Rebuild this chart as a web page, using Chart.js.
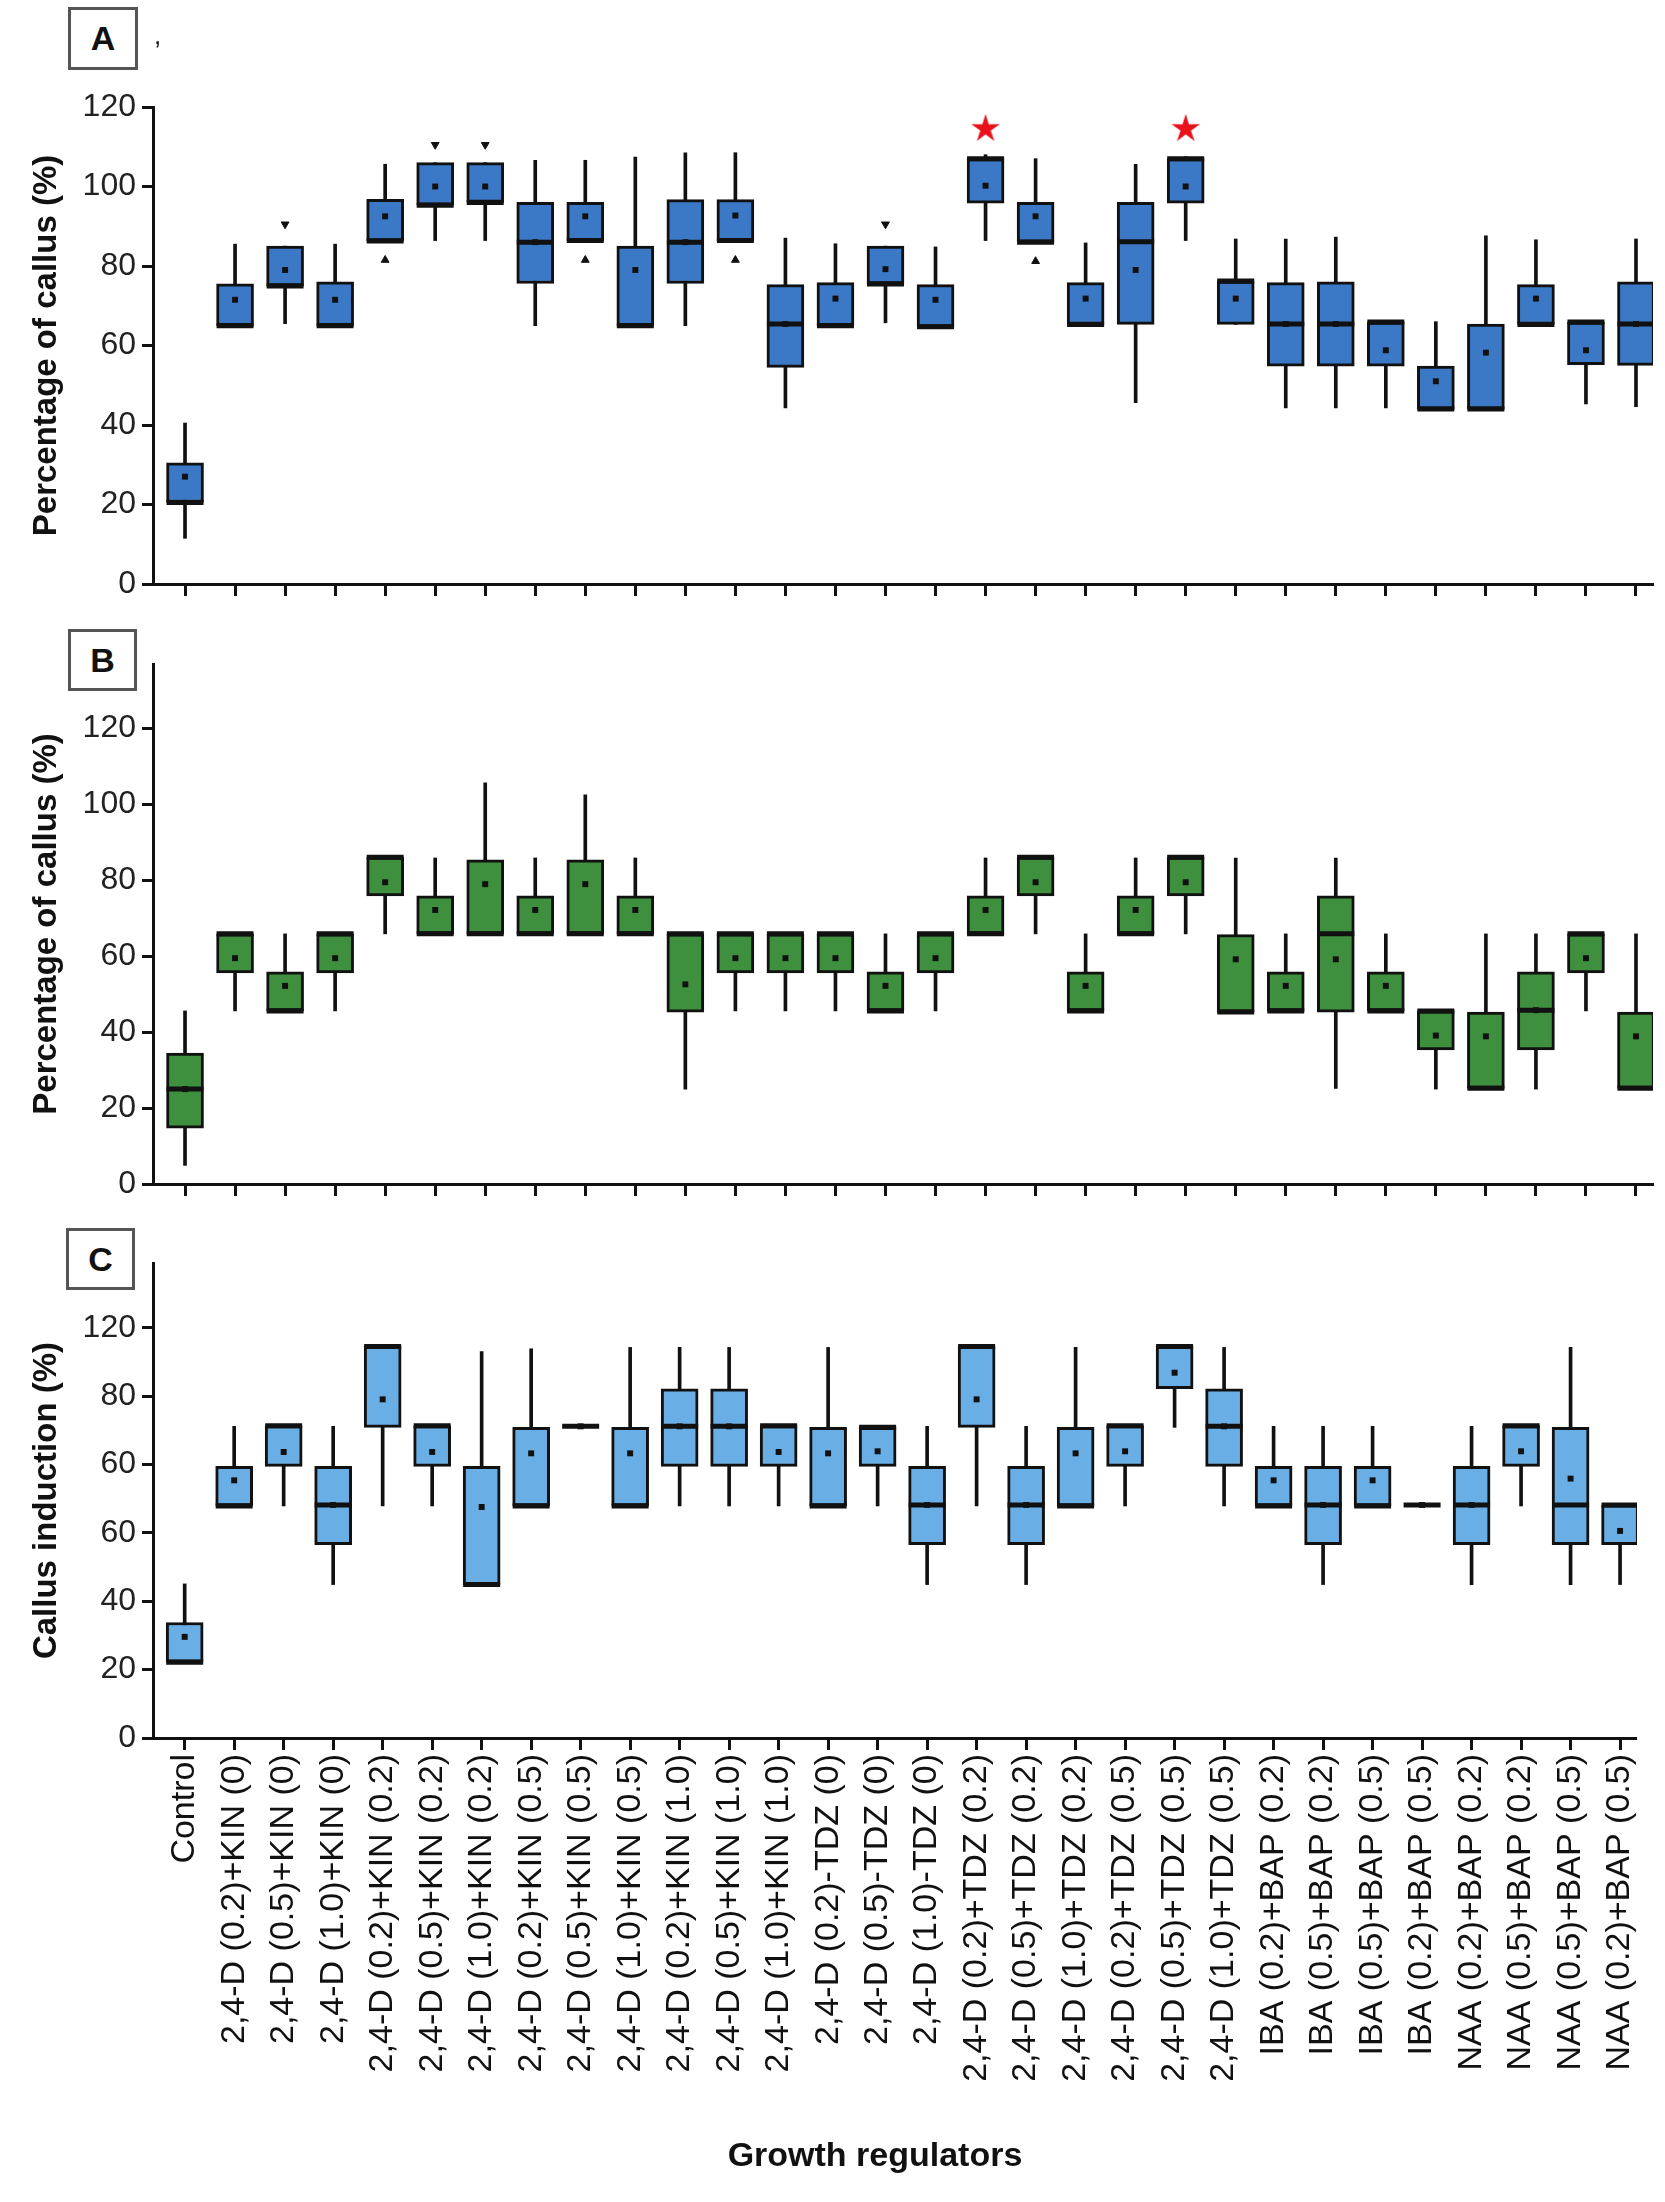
<!DOCTYPE html>
<html>
<head>
<meta charset="utf-8">
<title>Callus boxplots</title>
<script src="https://cdn.jsdelivr.net/npm/chart.js@4.4.1/dist/chart.umd.min.js"></script>
<style>
  html, body { margin: 0; padding: 0; background: #fff; }
  #page { position: relative; width: 1665px; height: 2202px; overflow: hidden;
          font-family: 'Liberation Sans', Arial, sans-serif; color: #111; }
  #page canvas { position: absolute; left: 0; }
  .tag { position: absolute; box-sizing: border-box; border: 3px solid #555; background: #fff;
         font-weight: bold; font-size: 34px; text-align: center; }
  .xtitle { position: absolute; font-weight: bold; font-size: 34px; transform: translateX(-50%); white-space: nowrap; }
</style>
</head>
<body>
<div id="page">
  <canvas id="chartA" width="1665" height="610" style="top:0"></canvas>
  <canvas id="chartB" width="1665" height="600" style="top:610px"></canvas>
  <canvas id="chartC" width="1665" height="992" style="top:1210px"></canvas>
  <div class="tag" style="left:68px;top:7px;width:70px;height:63px;line-height:57px">A</div>
  <div style="position:absolute;left:154px;top:20px;font-size:26px">,</div>
  <div class="tag" style="left:68px;top:629px;width:69px;height:62px;line-height:56px">B</div>
  <div class="tag" style="left:66px;top:1228px;width:69px;height:62px;line-height:56px">C</div>
  <div class="xtitle" style="left:875px;top:2135px">Growth regulators</div>
</div>

<script>
// ===== CATEGORIES (x axis) =====
const CATEGORIES = [
  'Control',
  '2,4-D (0.2)+KIN (0)', '2,4-D (0.5)+KIN (0)', '2,4-D (1.0)+KIN (0)',
  '2,4-D (0.2)+KIN (0.2)', '2,4-D (0.5)+KIN (0.2)', '2,4-D (1.0)+KIN (0.2)',
  '2,4-D (0.2)+KIN (0.5)', '2,4-D (0.5)+KIN (0.5)', '2,4-D (1.0)+KIN (0.5)',
  '2,4-D (0.2)+KIN (1.0)', '2,4-D (0.5)+KIN (1.0)', '2,4-D (1.0)+KIN (1.0)',
  '2,4-D (0.2)-TDZ (0)', '2,4-D (0.5)-TDZ (0)', '2,4-D (1.0)-TDZ (0)',
  '2,4-D (0.2)+TDZ (0.2)', '2,4-D (0.5)+TDZ (0.2)', '2,4-D (1.0)+TDZ (0.2)',
  '2,4-D (0.2)+TDZ (0.5)', '2,4-D (0.5)+TDZ (0.5)', '2,4-D (1.0)+TDZ (0.5)',
  'IBA (0.2)+BAP (0.2)', 'IBA (0.5)+BAP (0.2)', 'IBA (0.5)+BAP (0.5)', 'IBA (0.2)+BAP (0.5)',
  'NAA (0.2)+BAP (0.2)', 'NAA (0.5)+BAP (0.2)', 'NAA (0.5)+BAP (0.5)', 'NAA (0.2)+BAP (0.5)'
];

// ===== PANEL A : Percentage of callus =====
const A_LOW  = [11.5, 65, 65.5, 65, 86.3, 86.4, 86.4, 65, 86.4, 65, 65, 86.4, 44.3, 65, 65.7, 64.7, 86.4, 86, 65.3, 45.6, 86.4, 65.3, 44.3, 44.3, 44.3, 44, 44, 65.3, 45.3, 44.6];
const A_Q1   = [20.5, 65, 75, 65, 86.3, 95.3, 96, 75.6, 86.4, 65, 75.6, 86.4, 54.5, 65, 75.5, 64.7, 95.8, 86, 65.3, 65.3, 95.8, 65.3, 54.8, 54.8, 54.8, 44, 44, 65.3, 55.2, 55];
const A_MED  = [20.5, 65, 75, 65, 86.3, 95.3, 96, 86, 86.4, 65, 86, 86.4, 65.4, 65, 75.5, 64.7, 107, 86, 65.3, 86.1, 107, 76.2, 65.4, 65.4, 65.9, 44, 44, 65.3, 65.9, 65.4];
const A_Q3   = [30.5, 75.5, 85, 76, 96.8, 106, 106, 96, 96, 85, 96.7, 96.7, 75.3, 75.8, 85, 75.3, 107, 96, 75.8, 96, 107, 76.2, 75.8, 76, 65.9, 54.8, 65.4, 75.3, 65.9, 76];
const A_HIGH = [40.5, 85.5, 85, 85.5, 105.6, 106, 106, 106.6, 106.6, 107.4, 108.5, 108.5, 87, 85.6, 85, 84.8, 108, 107, 85.8, 105.6, 107.5, 86.8, 86.8, 87.3, 65.9, 66, 87.6, 86.6, 65.9, 86.8];
const A_MEAN = [27, 71.5, 79, 71.5, 92.5, 100, 100, 86, 92.5, 79, 86, 92.7, 65.4, 71.8, 79.2, 71.5, 100.2, 92.5, 71.8, 79, 100, 71.8, 65.4, 65.4, 58.8, 51, 58.2, 71.8, 58.8, 65.4];
const A_OUT_HIGH_X = [2, 5, 6, 14];
const A_OUT_HIGH_Y = [90.5, 110.5, 110.5, 90.5];
const A_OUT_LOW_X  = [4, 8, 11, 17];
const A_OUT_LOW_Y  = [81.5, 81.5, 81.5, 81.2];
const A_STAR_X = [16, 20];
const A_STAR_Y = [114.5, 114.5];

// ===== PANEL B : Percentage of callus =====
const B_LOW  = [4.9, 45.6, 45.6, 45.6, 65.9, 65.9, 65.9, 65.9, 65.9, 65.9, 25, 45.6, 45.6, 45.6, 45.6, 45.6, 65.9, 65.9, 45.6, 65.9, 65.9, 45.3, 45.6, 25.2, 45.6, 25, 25.2, 25, 45.6, 25.2];
const B_Q1   = [14.7, 55.6, 45.6, 55.6, 75.9, 65.9, 65.9, 65.9, 65.9, 65.9, 45.3, 55.6, 55.6, 55.6, 45.6, 55.6, 65.9, 75.9, 45.6, 65.9, 75.9, 45.3, 45.6, 45.3, 45.6, 35.3, 25.2, 35.3, 55.6, 25.2];
const B_MED  = [25, 65.9, 45.6, 65.9, 86.1, 65.9, 65.9, 65.9, 65.9, 65.9, 65.9, 65.9, 65.9, 65.9, 45.6, 65.9, 65.9, 86.1, 45.6, 65.9, 86.1, 45.3, 45.6, 65.9, 45.6, 45.6, 25.2, 45.8, 65.9, 25.2];
const B_Q3   = [34.5, 65.9, 55.9, 65.9, 86.1, 75.9, 85.4, 75.9, 85.4, 75.9, 65.9, 65.9, 65.9, 65.9, 55.9, 65.9, 75.9, 86.1, 55.9, 75.9, 86.1, 65.7, 55.9, 75.9, 55.9, 45.6, 45.3, 55.9, 65.9, 45.3];
const B_HIGH = [45.6, 65.9, 65.9, 65.9, 86.1, 85.9, 105.7, 85.9, 102.5, 85.9, 65.9, 65.9, 65.9, 65.9, 65.9, 65.9, 85.9, 86.1, 65.9, 85.9, 86.1, 85.9, 65.9, 85.9, 65.9, 45.6, 65.9, 65.9, 65.9, 65.9];
const B_MEAN = [25, 59.5, 52.2, 59.5, 79.5, 72.2, 79, 72.2, 79, 72.2, 52.6, 59.5, 59.5, 59.5, 52.2, 59.5, 72.2, 79.5, 52.2, 72.2, 79.5, 59.2, 52.2, 59.2, 52.2, 39.1, 38.9, 45.8, 59.5, 38.9];

// ===== PANEL C : Callus induction =====
const C_LOW  = [22.2, 67.9, 67.9, 44.9, 67.9, 67.9, 44.9, 67.9, 91.2, 67.9, 67.9, 67.9, 67.9, 67.9, 67.9, 44.9, 67.9, 44.9, 67.9, 67.9, 90.9, 67.9, 67.9, 44.9, 67.9, 68.2, 44.9, 67.9, 44.9, 44.9];
const C_Q1   = [22.2, 67.9, 79.5, 56.6, 90.9, 79.5, 44.9, 67.9, 91.2, 67.9, 79.5, 79.5, 79.5, 67.9, 79.5, 56.6, 90.9, 56.6, 67.9, 79.5, 102.2, 79.5, 67.9, 56.6, 67.9, 68.2, 56.6, 79.5, 56.6, 56.6];
const C_MED  = [22.2, 67.9, 91.4, 68.2, 114.6, 91.4, 44.9, 67.9, 91.2, 67.9, 91.2, 91.2, 91.4, 67.9, 90.9, 68.2, 114.6, 68.2, 67.9, 91.4, 114.6, 91.2, 67.9, 68.2, 67.9, 68.2, 68.2, 91.4, 68.2, 68.2];
const C_Q3   = [33.8, 79.5, 91.4, 79.5, 114.6, 91.4, 79.5, 90.9, 91.2, 90.9, 102.2, 102.2, 91.4, 90.9, 90.9, 79.5, 114.6, 79.5, 90.9, 91.4, 114.6, 102.2, 79.5, 79.5, 79.5, 68.2, 79.5, 91.4, 90.9, 68.2];
const C_HIGH = [45.1, 91.2, 91.4, 91.2, 114.6, 91.4, 113.1, 113.9, 91.2, 114.3, 114.3, 114.3, 91.4, 114.3, 90.9, 91.2, 114.6, 91.2, 114.3, 91.4, 114.6, 114.3, 91.2, 91.2, 91.2, 68.2, 91.2, 91.4, 114.3, 68.2];
const C_MEAN = [29.6, 75.4, 83.7, 68.2, 99.1, 83.7, 67.6, 83.3, 91.2, 83.3, 91.2, 91.2, 83.7, 83.3, 83.9, 68.2, 99.1, 68.2, 83.3, 83.9, 106.9, 91.2, 75.4, 68.2, 75.4, 68.2, 68.2, 83.9, 75.9, 60.6];

// ===== Y TICKS =====
const Y_TICKS = [0, 20, 40, 60, 80, 100, 120];
const Y_LABELS_AB = ['0', '20', '40', '60', '80', '100', '120'];
const Y_LABELS_C  = ['0', '20', '40', '60', '60', '80', '120'];

const INK = '#111';
const FONT = "'Liberation Sans', Arial, sans-serif";

// red asterisk used as point image
function makeStar() {
  const c = document.createElement('canvas');
  c.width = 32; c.height = 32;
  const g = c.getContext('2d');
  g.fillStyle = '#e8121b';
  g.beginPath();
  for (let k = 0; k < 10; k++) {
    const r = k % 2 === 0 ? 15 : 5.5;
    const a = -Math.PI / 2 + k * Math.PI / 5;
    const px = 16 + r * Math.cos(a), py = 16 + r * Math.sin(a);
    k === 0 ? g.moveTo(px, py) : g.lineTo(px, py);
  }
  g.closePath();
  g.fill();
  return c;
}

const pts = (xs, ys) => xs.map((x, i) => ({ x, y: ys[i] }));
const byIndex = arr => arr.map((v, i) => ({ x: i, y: v }));
const ranges = (lo, hi) => lo.map((v, i) => ({ x: i, y: [v, hi[i]] }));

function makePanel(id, opt) {
  const datasets = [
    { type: 'bar', data: ranges(opt.low, opt.high), backgroundColor: INK, barThickness: 3,
      grouped: false, order: 6 },
    { type: 'bar', data: ranges(opt.q1, opt.q3), backgroundColor: opt.color, borderColor: INK,
      borderWidth: 3, borderSkipped: false, barThickness: 37, grouped: false, order: 5 },
    { type: 'scatter', data: byIndex(opt.med), pointStyle: 'line', pointRadius: 18.5,
      pointBorderWidth: 5, pointBorderColor: INK, order: 4 },
    { type: 'scatter', data: byIndex(opt.mean), pointStyle: 'rect', pointRadius: 4.2,
      pointBackgroundColor: INK, pointBorderWidth: 0, order: 3 }
  ];
  (opt.extra || []).forEach(d => datasets.push(d));

  new Chart(document.getElementById(id), {
    type: 'bar',
    data: { datasets },
    options: {
      responsive: false,
      devicePixelRatio: 1,
      animation: false,
      events: [],
      layout: { autoPadding: false, padding: opt.padding },
      plugins: { legend: { display: false }, tooltip: { enabled: false } },
      scales: {
        x: {
          type: 'linear', min: -0.64, max: 29.34, offset: false,
          afterBuildTicks: s => { s.ticks = CATEGORIES.map((_, i) => ({ value: i })); },
          afterFit: s => { s.height = opt.xHeight; },
          grid: { drawOnChartArea: false, offset: false, drawTicks: true, tickLength: 12, tickWidth: 3, tickColor: INK },
          border: { display: true, width: 3, color: INK },
          ticks: {
            display: opt.showLabels, autoSkip: false, minRotation: 90, maxRotation: 90, padding: 4,
            color: INK, font: { family: FONT, size: 34 },
            callback: v => CATEGORIES[v]
          }
        },
        y: {
          min: 0, max: opt.yMax,
          afterBuildTicks: s => { s.ticks = Y_TICKS.map(v => ({ value: v })); },
          afterFit: s => { s.width = 153; },
          grid: { drawOnChartArea: false, drawTicks: true, tickLength: 11, tickWidth: 3, tickColor: INK },
          border: { display: true, width: 3, color: INK },
          ticks: {
            padding: 6, color: '#222', font: { family: FONT, size: 32 },
            callback: v => opt.yLabels[Y_TICKS.indexOf(v)]
          },
          title: {
            display: true, text: opt.yTitle, color: INK,
            font: { family: FONT, size: 33, weight: 'bold' },
            padding: { top: 27, bottom: 0 }
          }
        }
      }
    }
  });
}

document.addEventListener('DOMContentLoaded', function () {
  const star = makeStar();

  makePanel('chartA', {
    low: A_LOW, q1: A_Q1, med: A_MED, q3: A_Q3, high: A_HIGH, mean: A_MEAN,
    color: '#3b78c6', yMax: 120, yTitle: 'Percentage of callus (%)', yLabels: Y_LABELS_AB,
    padding: { left: 0, right: 12, top: 107, bottom: 12 }, xHeight: 14, showLabels: false,
    extra: [
      { type: 'scatter', data: pts(A_OUT_HIGH_X, A_OUT_HIGH_Y), pointStyle: 'triangle', rotation: 180,
        pointRadius: 4.5, pointBackgroundColor: INK, pointBorderColor: INK, order: 2 },
      { type: 'scatter', data: pts(A_OUT_LOW_X, A_OUT_LOW_Y), pointStyle: 'triangle',
        pointRadius: 4.5, pointBackgroundColor: INK, pointBorderColor: INK, order: 2 },
      { type: 'scatter', data: pts(A_STAR_X, A_STAR_Y), pointStyle: star, pointRadius: 15, order: 1 }
    ]
  });

  makePanel('chartB', {
    low: B_LOW, q1: B_Q1, med: B_MED, q3: B_Q3, high: B_HIGH, mean: B_MEAN,
    color: '#3e8f3e', yMax: 137, yTitle: 'Percentage of callus (%)', yLabels: Y_LABELS_AB,
    padding: { left: 0, right: 12, top: 54, bottom: 12 }, xHeight: 14, showLabels: false
  });

  makePanel('chartC', {
    low: C_LOW, q1: C_Q1, med: C_MED, q3: C_Q3, high: C_HIGH, mean: C_MEAN,
    color: '#6aaee6', yMax: 139, yTitle: 'Callus induction (%)', yLabels: Y_LABELS_C,
    padding: { left: 0, right: 12, top: 53, bottom: 84 }, xHeight: 380, showLabels: true
  });
});
</script>
</body>
</html>
